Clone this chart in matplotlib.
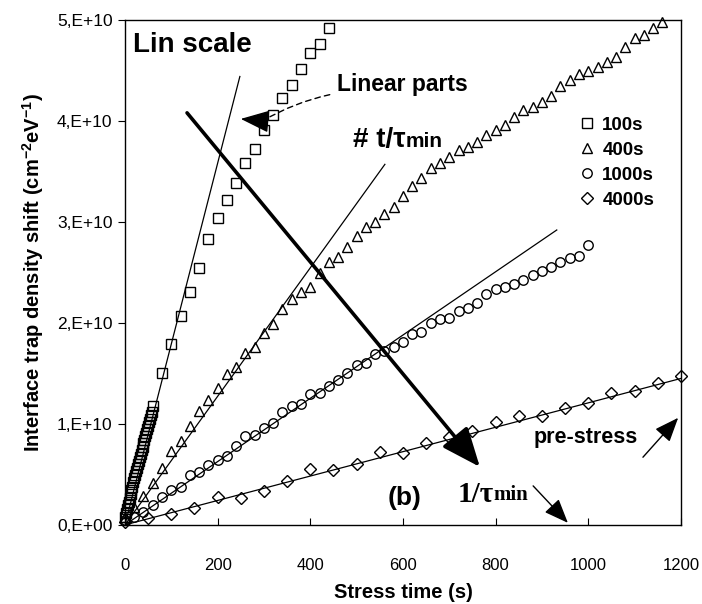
import matplotlib
matplotlib.use("Agg")
import matplotlib.pyplot as plt
import numpy as np

plt.rcParams.update({
    "font.family": "Liberation Sans",
    "mathtext.fontset": "custom",
    "mathtext.rm": "Liberation Sans",
    "mathtext.bf": "Liberation Sans:bold",
})

# stress time (s) and trap density shift (1e10 cm-2 eV-1)
t_100 = [0, 2, 4, 6, 8, 10, 12, 14, 16, 18, 20, 22, 24, 26, 28, 30, 32, 34, 36, 38,
         40, 42, 44, 46, 48, 50, 52, 54, 56, 58, 60, 80, 100, 120, 140, 160, 180, 200,
         220, 240, 260, 280, 300, 320, 340, 360, 380, 400, 420, 440]
y_100 = [0.08, 0.12, 0.16, 0.20, 0.23, 0.27, 0.31, 0.35, 0.38, 0.42, 0.46, 0.49, 0.53,
         0.56, 0.60, 0.63, 0.67, 0.70, 0.74, 0.77, 0.81, 0.84, 0.88, 0.91, 0.95, 0.98,
         1.02, 1.05, 1.09, 1.12, 1.18, 1.50, 1.79, 2.07, 2.31, 2.54, 2.83, 3.04, 3.22,
         3.39, 3.58, 3.72, 3.91, 4.06, 4.23, 4.36, 4.51, 4.67, 4.76, 4.92]

t_400 = [0, 20, 40, 60, 80, 100, 120, 140, 160, 180, 200, 220, 240, 260, 280, 300, 320,
         340, 360, 380, 400, 420, 440, 460, 480, 500, 520, 540, 560, 580, 600, 620, 640,
         660, 680, 700, 720, 740, 760, 780, 800, 820, 840, 860, 880, 900, 920, 940, 960,
         980, 1000, 1020, 1040, 1060, 1080, 1100, 1120, 1140, 1160]
y_400 = [0.08, 0.18, 0.29, 0.41, 0.56, 0.73, 0.83, 0.98, 1.13, 1.24, 1.36, 1.49, 1.56,
         1.70, 1.76, 1.90, 1.99, 2.14, 2.24, 2.31, 2.36, 2.49, 2.60, 2.65, 2.75, 2.86,
         2.95, 3.00, 3.08, 3.15, 3.26, 3.36, 3.43, 3.53, 3.58, 3.64, 3.71, 3.74, 3.79,
         3.86, 3.91, 3.96, 4.04, 4.11, 4.14, 4.19, 4.25, 4.35, 4.41, 4.46, 4.49, 4.53,
         4.58, 4.63, 4.73, 4.82, 4.85, 4.92, 4.98]

t_1000 = [0, 20, 40, 60, 80, 100, 120, 140, 160, 180, 200, 220, 240, 260, 280, 300, 320,
          340, 360, 380, 400, 420, 440, 460, 480, 500, 520, 540, 560, 580, 600, 620, 640,
          660, 680, 700, 720, 740, 760, 780, 800, 820, 840, 860, 880, 900, 920, 940, 960,
          980, 1000]
y_1000 = [0.05, 0.08, 0.13, 0.20, 0.28, 0.35, 0.38, 0.49, 0.52, 0.59, 0.64, 0.68, 0.78,
          0.88, 0.89, 0.96, 1.01, 1.12, 1.18, 1.20, 1.30, 1.31, 1.38, 1.43, 1.50, 1.58,
          1.60, 1.69, 1.72, 1.76, 1.81, 1.89, 1.91, 2.00, 2.04, 2.05, 2.12, 2.15, 2.20,
          2.29, 2.34, 2.36, 2.39, 2.42, 2.47, 2.51, 2.55, 2.60, 2.64, 2.66, 2.77]

t_4000 = [0, 50, 100, 150, 200, 250, 300, 350, 400, 450, 500, 550, 600, 650, 700, 750,
          800, 850, 900, 950, 1000, 1050, 1100, 1150, 1200]
y_4000 = [0.03, 0.07, 0.11, 0.17, 0.28, 0.27, 0.34, 0.43, 0.55, 0.54, 0.60, 0.72, 0.71,
          0.81, 0.87, 0.93, 1.02, 1.08, 1.08, 1.16, 1.21, 1.31, 1.33, 1.40, 1.47]

# linear fits (start/end points)
fit_t_100, fit_y_100 = [0, 248], [0.0, 4.44]
fit_t_400, fit_y_400 = [0, 561], [0.0, 3.57]
fit_t_1000, fit_y_1000 = [0, 932], [0.0, 2.92]
fit_t_4000, fit_y_4000 = [0, 1200], [0.0, 1.45]

series = [
    ("100s", t_100, y_100, fit_t_100, fit_y_100, "s", 6.5),
    ("400s", t_400, y_400, fit_t_400, fit_y_400, "^", 7.5),
    ("1000s", t_1000, y_1000, fit_t_1000, fit_y_1000, "o", 6.8),
    ("4000s", t_4000, y_4000, fit_t_4000, fit_y_4000, "D", 6.0),
]

x_ticks = [0, 200, 400, 600, 800, 1000, 1200]
y_ticks = [0, 1e10, 2e10, 3e10, 4e10, 5e10]
y_tick_labels = ["0,E+00", "1,E+10", "2,E+10", "3,E+10", "4,E+10", "5,E+10"]

fig = plt.figure(figsize=(7.02, 6.04), dpi=100)
ax = fig.add_axes([0.178, 0.131, 0.792, 0.836])

for label, t, y, ft, fy, marker, ms in series:
    ax.plot(ft, np.array(fy) * 1e10, color="black", lw=0.9, zorder=2)
    ax.plot(t, np.array(y) * 1e10, ls="none", marker=marker, ms=ms, mfc="none",
            mec="black", mew=1.0, label=label, zorder=3, clip_on=False)

ax.set_xlim(0, 1200)
ax.set_ylim(0, 5e10)
ax.set_xticks(x_ticks)
ax.set_yticks(y_ticks)
ax.set_yticklabels(y_tick_labels)
ax.tick_params(axis="x", direction="in", length=5, labelsize=12, pad=24)
ax.tick_params(axis="y", direction="out", length=5, labelsize=12.5, pad=4)
for sp in ax.spines.values():
    sp.set_linewidth(1.0)

ax.set_xlabel("Stress time (s)", fontsize=14.5, fontweight="bold", labelpad=7)
ax.set_ylabel("Interface trap density shift (cm$^{\\mathbf{-2}}$eV$^{\\mathbf{-1}}$)",
              fontsize=14.5, fontweight="bold", labelpad=8)

leg = ax.legend(loc="upper left", bbox_to_anchor=(0.818, 0.808), frameon=False,
                prop={"weight": "bold", "size": 13.5}, handlelength=0.8,
                handletextpad=0.4, labelspacing=0.42, borderpad=0, borderaxespad=0)

# annotations
ax.text(17, 4.75e10, "Lin scale", fontsize=20, fontweight="bold", ha="left", va="center")
ax.text(458, 4.36e10, "Linear parts", fontsize=16.5, fontweight="bold", ha="left", va="center")
ax.annotate("", xy=(297, 4.0e10), xytext=(442, 4.26e10),
            arrowprops=dict(arrowstyle="-", ls=(0, (4, 3)), lw=1.0, color="black",
                            connectionstyle="arc3,rad=0.08", shrinkA=0, shrinkB=0))
ax.annotate("", xy=(250, 4.02e10), xytext=(297, 4.0e10),
            arrowprops=dict(arrowstyle="-|>,head_length=0.9,head_width=0.35", lw=1.0,
                            color="black", mutation_scale=20, shrinkA=0, shrinkB=0))

tau1 = ax.text(492, 3.81e10, "# t/τ", fontsize=20, fontweight="bold", ha="left", va="center")
ax.annotate("min", xy=(1.0, 0.08), xycoords=tau1, fontsize=15, fontweight="bold",
            ha="left", va="bottom")

ax.annotate("", xy=(766, 0.574e10), xytext=(134, 4.08e10),
            arrowprops=dict(arrowstyle="-|>,head_length=1.2,head_width=0.5", lw=2.6,
                            color="black", mutation_scale=20, shrinkA=0, shrinkB=0))

ax.text(603, 0.27e10, "(b)", fontsize=19, fontweight="bold", ha="center", va="center")

tau2 = ax.text(717, 0.30e10, "1/τ", fontsize=21, fontweight="bold", ha="left",
               va="center", family="Liberation Serif")
ax.annotate("min", xy=(1.0, 0.1), xycoords=tau2, fontsize=15, fontweight="bold",
            ha="left", va="bottom", family="Liberation Serif")
ax.annotate("", xy=(956, 0.02e10), xytext=(881, 0.386e10),
            arrowprops=dict(arrowstyle="-|>,head_length=0.75,head_width=0.3", lw=1.0,
                            color="black", mutation_scale=20, shrinkA=0, shrinkB=0))

ax.text(881, 0.87e10, "pre-stress", fontsize=15.5, fontweight="bold", ha="left", va="center")
ax.annotate("", xy=(1194, 1.06e10), xytext=(1118, 0.67e10),
            arrowprops=dict(arrowstyle="-|>,head_length=0.75,head_width=0.3", lw=1.0,
                            color="black", mutation_scale=20, shrinkA=0, shrinkB=0))

fig.savefig("out.png", dpi=100)
